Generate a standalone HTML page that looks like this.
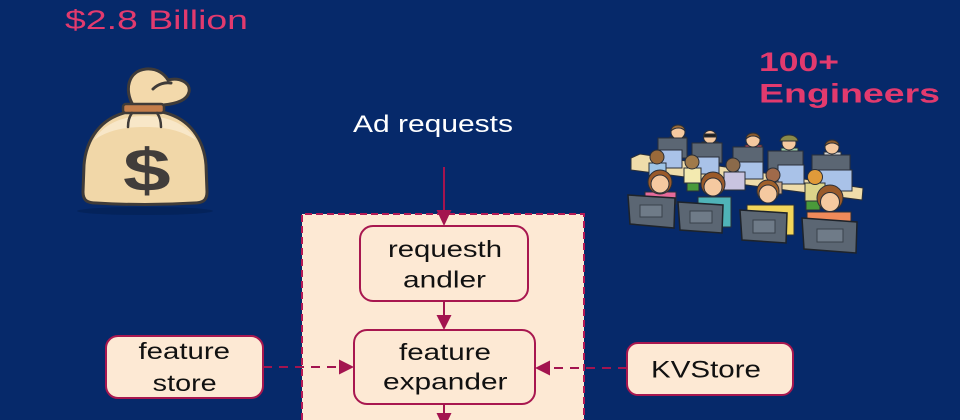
<!DOCTYPE html>
<html><head><meta charset="utf-8"><style>
html,body{margin:0;padding:0;background:#06296a;width:960px;height:420px;overflow:hidden;}
svg{display:block;}
text{font-family:"Liberation Sans",Arial,sans-serif;}
</style></head><body>
<svg width="960" height="420" viewBox="0 0 960 420" xmlns="http://www.w3.org/2000/svg">
<rect x="0" y="0" width="960" height="420" fill="#06296a"/>

<!-- titles -->
<text x="65" y="29" font-size="27" fill="#e23a6e" textLength="183" lengthAdjust="spacingAndGlyphs">$2.8 Billion</text>
<text x="759" y="71" font-size="27" font-weight="bold" fill="#e23a6e" textLength="80" lengthAdjust="spacingAndGlyphs">100+</text>
<text x="759" y="102.5" font-size="27" font-weight="bold" fill="#e23a6e" textLength="181" lengthAdjust="spacingAndGlyphs">Engineers</text>
<text x="353" y="132" font-size="24" fill="#ffffff" textLength="160" lengthAdjust="spacingAndGlyphs">Ad requests</text>

<!-- money bag -->
<ellipse cx="145" cy="211" rx="68" ry="4" fill="#041f52" opacity="0.6"/>
<path d="M133,105 C124,90 128,71 146,69 C158,68 165,75 168,80 C180,77 191,83 189,92 C187,101 174,104 163,105 Z" fill="#f3d9ab" stroke="#3f3b39" stroke-width="3"/>
<path d="M153,89 C158,84 165,82 171,83" fill="none" stroke="#3f3b39" stroke-width="3" stroke-linecap="round"/>
<path d="M128,112 C100,118 86,140 84,165 L83,192 C83,201 88,203 96,203 Q145,206 194,203 C202,203 207,201 207,192 L206,165 C204,140 190,118 162,112 Z" fill="#f1d7a8" stroke="#3f3b39" stroke-width="3"/>
<path d="M94,140 C105,122 125,116 145,116 C165,116 185,122 196,140 C180,130 165,127 145,127 C125,127 108,130 94,140 Z" fill="#f8e7c8"/>
<rect x="123" y="104" width="41" height="9" rx="3" fill="#c47d4a" stroke="#3f3b39" stroke-width="2.5"/>
<path d="M132,113 C129,117 128,122 128,127 M157,113 C160,117 161,122 161,127" fill="none" stroke="#3f3b39" stroke-width="2.5" stroke-linecap="round"/>
<text x="0" y="0" font-size="66" font-weight="bold" fill="#413d3b" transform="translate(123,191) scale(1.3,0.92)">$</text>

<!-- engineers clip art -->
<g stroke="#2a2f38" stroke-width="1">
  <rect x="670" y="137" width="16" height="10" fill="#d86b7b"/>
  <circle cx="678" cy="132" r="7" fill="#f5c9a0"/>
  <path d="M671,131 C671,123 685,123 685,131 C682,127 675,127 671,131Z" fill="#9a6a3a"/>
  <rect x="702" y="142" width="16" height="10" fill="#e8d36a"/>
  <circle cx="710" cy="137" r="6.5" fill="#f5c9a0"/>
  <rect x="704" y="134" width="12" height="3" fill="#1d1d1d"/>
  <rect x="745" y="145" width="17" height="10" fill="#c8485a"/>
  <circle cx="753" cy="140" r="7" fill="#f5c9a0"/>
  <path d="M746,139 C746,131 760,131 760,139 C756,135 750,135 746,139Z" fill="#8b5a2b"/>
  <rect x="781" y="148" width="17" height="10" fill="#9fd0a8"/>
  <circle cx="789" cy="143" r="7" fill="#f5c9a0"/>
  <path d="M780,141 C781,133 797,133 798,141 Z" fill="#8a8a4a"/>
  <rect x="824" y="152" width="17" height="10" fill="#d2d2d2"/>
  <circle cx="832" cy="147" r="7" fill="#f5c9a0"/>
  <path d="M825,146 C825,138 839,138 839,146 C835,142 829,142 825,146Z" fill="#8b5a2b"/>
  <rect x="658" y="138" width="29" height="20" fill="#5b6673"/>
  <rect x="692" y="143" width="30" height="20" fill="#5b6673"/>
  <rect x="733" y="147" width="30" height="21" fill="#5b6673"/>
  <rect x="768" y="151" width="35" height="19" fill="#5b6673"/>
  <rect x="812" y="155" width="38" height="18" fill="#5b6673"/>
  <polygon points="631,158 640,154 863,188 862,200 631,170" fill="#efdcaa"/>
  <rect x="658" y="150" width="24" height="18" fill="#a9c2e8"/>
  <rect x="695" y="157" width="24" height="17" fill="#a9c2e8"/>
  <rect x="738" y="162" width="25" height="17" fill="#a9c2e8"/>
  <rect x="778" y="165" width="26" height="19" fill="#a9c2e8"/>
  <rect x="818" y="170" width="34" height="21" fill="#a9c2e8"/>
  <rect x="649" y="163" width="17" height="13" fill="#9ec4e6"/>
  <circle cx="657" cy="157" r="7" fill="#9a6a3a"/>
  <rect x="684" y="168" width="17" height="15" fill="#f3eab0"/>
  <circle cx="692" cy="162" r="7" fill="#a07a4a"/>
  <rect x="687" y="183" width="12" height="8" fill="#4a9a3a"/>
  <rect x="724" y="172" width="21" height="18" fill="#c9c4e0"/>
  <circle cx="733" cy="165" r="7" fill="#8b6a4a"/>
  <rect x="766" y="182" width="16" height="12" fill="#c9a88a"/>
  <circle cx="773" cy="175" r="7" fill="#a06a4a"/>
  <rect x="805" y="183" width="20" height="18" fill="#dcd48a"/>
  <circle cx="815" cy="177" r="7.5" fill="#e09a3a"/>
  <rect x="806" y="201" width="14" height="9" fill="#4a9a3a"/>
  <rect x="645" y="192" width="31" height="12" fill="#e66a9a"/>
  <circle cx="660" cy="182" r="12" fill="#9a5a2a"/>
  <circle cx="660" cy="184" r="9" fill="#f5c9a0"/>
  <rect x="698" y="197" width="33" height="30" fill="#4fb3b8"/>
  <circle cx="713" cy="184" r="12" fill="#9a5a2a"/>
  <circle cx="713" cy="187" r="9" fill="#f5c9a0"/>
  <rect x="747" y="205" width="47" height="30" fill="#f2d55a"/>
  <circle cx="768" cy="191" r="11" fill="#a0602a"/>
  <circle cx="768" cy="194" r="9" fill="#f5c9a0"/>
  <rect x="807" y="212" width="44" height="14" fill="#f08a5a"/>
  <circle cx="830" cy="198" r="13" fill="#9a5a2a"/>
  <circle cx="830" cy="202" r="9.5" fill="#f5c9a0"/>
  <g stroke="#1e232a" stroke-width="1.5">
    <polygon points="628,195 675,198 674,228 630,224" fill="#5b6673"/>
    <polygon points="678,202 723,205 722,233 680,230" fill="#5b6673"/>
    <polygon points="740,210 787,213 786,243 742,240" fill="#5b6673"/>
    <polygon points="802,218 857,222 856,253 804,249" fill="#5b6673"/>
  </g>
  <g fill="#6f7b88" stroke="#3a414b">
    <rect x="640" y="205" width="22" height="12"/>
    <rect x="690" y="211" width="22" height="12"/>
    <rect x="753" y="220" width="22" height="13"/>
    <rect x="817" y="229" width="26" height="13"/>
  </g>
</g>

<!-- container (bottom edge off-frame) -->
<path d="M302,420 V214 H584 V420 Z" fill="#fde9d4"/>
<path d="M302,420 V214 H584 V420" fill="none" stroke="#b51a55" stroke-width="2" stroke-dasharray="7 4"/>

<!-- boxes -->
<g fill="#fde9d4" stroke="#a8174f" stroke-width="2">
  <rect x="360" y="226" width="168" height="75" rx="13"/>
  <rect x="354" y="330" width="181" height="74" rx="13"/>
  <rect x="106" y="336" width="157" height="62" rx="12"/>
  <rect x="627" y="343" width="166" height="52" rx="11"/>
</g>

<!-- arrows -->
<g stroke="#a3144f" stroke-width="2" fill="none">
  <line x1="444" y1="167" x2="444" y2="212"/>
  <line x1="444" y1="301" x2="444" y2="316"/>
  <line x1="444" y1="404" x2="444" y2="414"/>
  <line x1="263" y1="367" x2="341" y2="367" stroke-dasharray="9 7"/>
  <line x1="627" y1="368" x2="549" y2="368" stroke-dasharray="9 7"/>
</g>
<g fill="#a3144f">
  <polygon points="436.5,210 451.5,210 444,226"/>
  <polygon points="436.5,315 451.5,315 444,330"/>
  <polygon points="436.5,413 451.5,413 448.2,420 439.8,420"/>
  <polygon points="339,359.5 339,374.5 354,367"/>
  <polygon points="550,360.5 550,375.5 535,368"/>
</g>

<!-- box labels -->
<g fill="#111111" font-size="23">
  <text x="388" y="257" textLength="114" lengthAdjust="spacingAndGlyphs">requesth</text>
  <text x="403" y="287.5" textLength="83" lengthAdjust="spacingAndGlyphs">andler</text>
  <text x="399" y="360" textLength="92" lengthAdjust="spacingAndGlyphs">feature</text>
  <text x="383" y="389.5" textLength="124.5" lengthAdjust="spacingAndGlyphs">expander</text>
  <text x="138.5" y="359" textLength="91.5" lengthAdjust="spacingAndGlyphs">feature</text>
  <text x="152.7" y="391" textLength="64" lengthAdjust="spacingAndGlyphs">store</text>
  <text x="651" y="377.5" font-size="24" textLength="110" lengthAdjust="spacingAndGlyphs">KVStore</text>
</g>
</svg>
</body></html>
